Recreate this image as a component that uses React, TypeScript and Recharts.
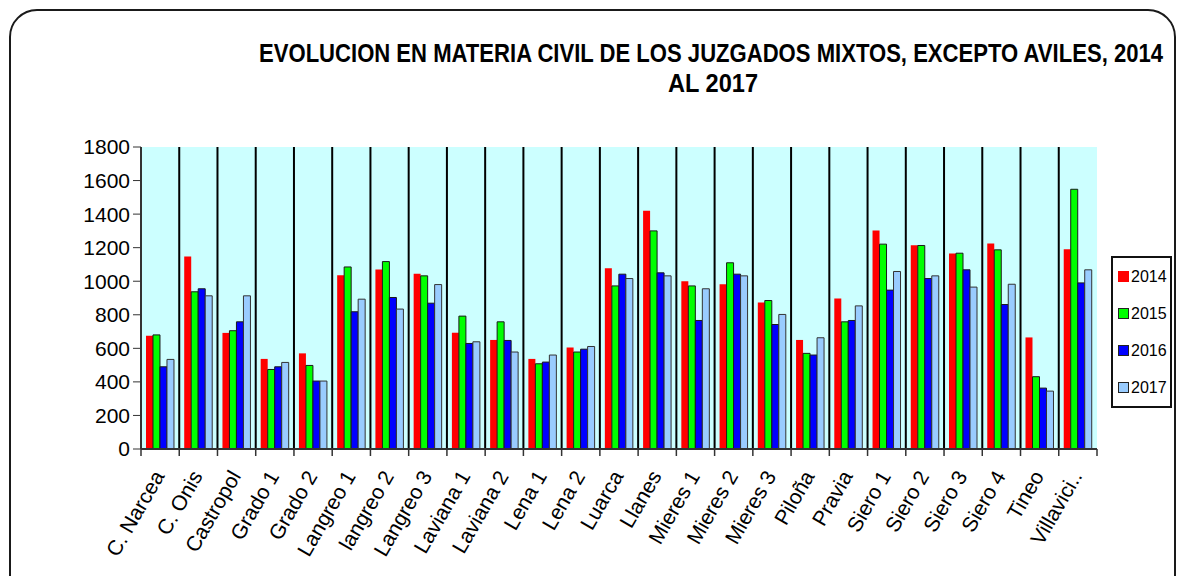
import { BarChart, Bar, XAxis, YAxis, CartesianGrid } from "recharts";

const juzgados = [
  "C. Narcea", "C. Onis", "Castropol", "Grado 1", "Grado 2", "Langreo 1", "langreo 2",
  "Langreo 3", "Laviana 1", "Laviana 2", "Lena 1", "Lena 2", "Luarca", "Llanes",
  "Mieres 1", "Mieres 2", "Mieres 3", "Piloña", "Pravia", "Siero 1", "Siero 2",
  "Siero 3", "Siero 4", "Tineo", "Villavici..",
];

const v2014 = [675, 1147, 692, 537, 570, 1035, 1070, 1045, 693, 650, 537, 605, 1078, 1420, 1000, 982, 873, 650, 897, 1302, 1215, 1165, 1225, 665, 1191];
const v2015 = [680, 937, 705, 474, 498, 1085, 1117, 1032, 792, 758, 508, 578, 972, 1300, 972, 1110, 885, 570, 758, 1221, 1213, 1167, 1187, 431, 1548];
const v2016 = [490, 955, 758, 490, 405, 818, 903, 869, 629, 647, 518, 595, 1042, 1050, 766, 1042, 742, 560, 766, 947, 1016, 1068, 861, 363, 990];
const v2017 = [534, 913, 913, 516, 405, 893, 834, 980, 639, 578, 560, 611, 1016, 1032, 955, 1032, 802, 663, 853, 1058, 1032, 965, 982, 345, 1068];

const yTicks = [0, 200, 400, 600, 800, 1000, 1200, 1400, 1600, 1800];

const series = [
  { key: "y2014", label: "2014", color: "#ff0000", stroke: "none" },
  { key: "y2015", label: "2015", color: "#00ff00", stroke: "#1a1a1a" },
  { key: "y2016", label: "2016", color: "#0000ff", stroke: "#1a1a1a" },
  { key: "y2017", label: "2017", color: "#99ccff", stroke: "#333333" },
];

const data = juzgados.map((name, i) => ({
  name,
  y2014: v2014[i],
  y2015: v2015[i],
  y2016: v2016[i],
  y2017: v2017[i],
}));

const W = 1177;
const H = 576;
const M = { top: 147, right: 80, bottom: 27, left: 61 };
const Y_AXIS_W = 80;
const X_AXIS_H = 100;
const plotW = W - M.left - M.right - Y_AXIS_W;
const band = plotW / juzgados.length;

const font = "Arial, 'Liberation Sans', sans-serif";

const XTick = (props: any) => {
  const { x, y, payload, index } = props;
  const left = x - band / 2;
  const tx = x + 5;
  const ty = y + 27;
  return (
    <g>
      <line x1={left} y1={y} x2={left} y2={y + 7} stroke="#333" strokeWidth={1.5} />
      {index === juzgados.length - 1 && (
        <line x1={x + band / 2} y1={y} x2={x + band / 2} y2={y + 7} stroke="#333" strokeWidth={1.5} />
      )}
      <text
        x={tx}
        y={ty}
        textAnchor="end"
        transform={`rotate(-60, ${tx}, ${ty})`}
        fontSize={21}
        fontFamily={font}
        fill="#000"
      >
        {payload.value}
      </text>
    </g>
  );
};

const boundaries = ({ offset }: any) => {
  const pts: number[] = [];
  for (let i = 1; i < juzgados.length; i++) pts.push(offset.left + (i * offset.width) / juzgados.length);
  return pts;
};

export default function App() {
  return (
    <div style={{ position: "absolute", left: 0, top: 0, width: W, height: H, overflow: "hidden", background: "#fff" }}>
      <div
        style={{
          position: "absolute", left: 9, top: 9, width: 1167, height: 620,
          border: "2px solid #1a1a1a", borderRadius: 28, boxSizing: "border-box",
        }}
      />
      <svg style={{ position: "absolute", left: 0, top: 0 }} width={W} height={110}>
        <text transform="translate(711, 62) scale(1, 1.13)" x={0} y={0} textAnchor="middle"
          fontFamily={font} fontWeight="bold" fontSize={22}
          textLength={904} lengthAdjust="spacingAndGlyphs">
          EVOLUCION EN MATERIA CIVIL  DE LOS JUZGADOS MIXTOS, EXCEPTO AVILES, 2014
        </text>
        <text transform="translate(713, 92) scale(1, 1.13)" x={0} y={0} textAnchor="middle"
          fontFamily={font} fontWeight="bold" fontSize={22}
          textLength={90} lengthAdjust="spacingAndGlyphs">
          AL 2017
        </text>
      </svg>
      <div style={{ position: "absolute", left: 0, top: 0 }}>
        <BarChart width={W} height={H} data={data} margin={M} barCategoryGap="13%" barGap={0}>
          <CartesianGrid
            horizontal={false}
            fill="#ccffff"
            stroke="#000"
            strokeWidth={2}
            verticalCoordinatesGenerator={boundaries}
          />
          <XAxis
            dataKey="name"
            interval={0}
            height={X_AXIS_H}
            tickSize={0}
            tickMargin={0}
            axisLine={{ stroke: "#333", strokeWidth: 2 }}
            tick={(p: any) => <XTick {...p} />}
          />
          <XAxis xAxisId="top" dataKey="name" orientation="top" height={0} tick={false} tickLine={false} axisLine={{ stroke: "#999", strokeWidth: 2 }} />
          <YAxis
            domain={[0, 1800]}
            ticks={yTicks}
            width={Y_AXIS_W}
            tickSize={8}
            tickMargin={3}
            tick={{ fontSize: 21, fontFamily: font, fill: "#000" }}
            tickLine={{ stroke: "#333" }}
            axisLine={{ stroke: "#333", strokeWidth: 2 }}
          />
          <YAxis yAxisId="right" orientation="right" width={0} tick={false} tickLine={false} axisLine={{ stroke: "#999", strokeWidth: 2 }} />
          {series.map((s) => (
            <Bar
              key={s.key}
              dataKey={s.key}
              fill={s.color}
              stroke={s.stroke}
              strokeWidth={1}
              isAnimationActive={false}
            />
          ))}
        </BarChart>
      </div>
      <div
        style={{
          position: "absolute", left: 1111, top: 256, width: 61, height: 152,
          border: "2px solid #111", boxSizing: "border-box", background: "#fff",
          fontFamily: font, fontSize: 16, color: "#000",
          display: "flex", flexDirection: "column", justifyContent: "space-around", paddingLeft: 5,
        }}
      >
        {series.map((s) => (
          <div key={s.key} style={{ display: "flex", alignItems: "center", height: 20 }}>
            <span
              style={{
                display: "inline-block", width: 9, height: 9, marginRight: 2, background: s.color,
                border: s.stroke === "none" ? "1px solid " + s.color : "1px solid #222",
              }}
            />
            {s.label}
          </div>
        ))}
      </div>
    </div>
  );
}
